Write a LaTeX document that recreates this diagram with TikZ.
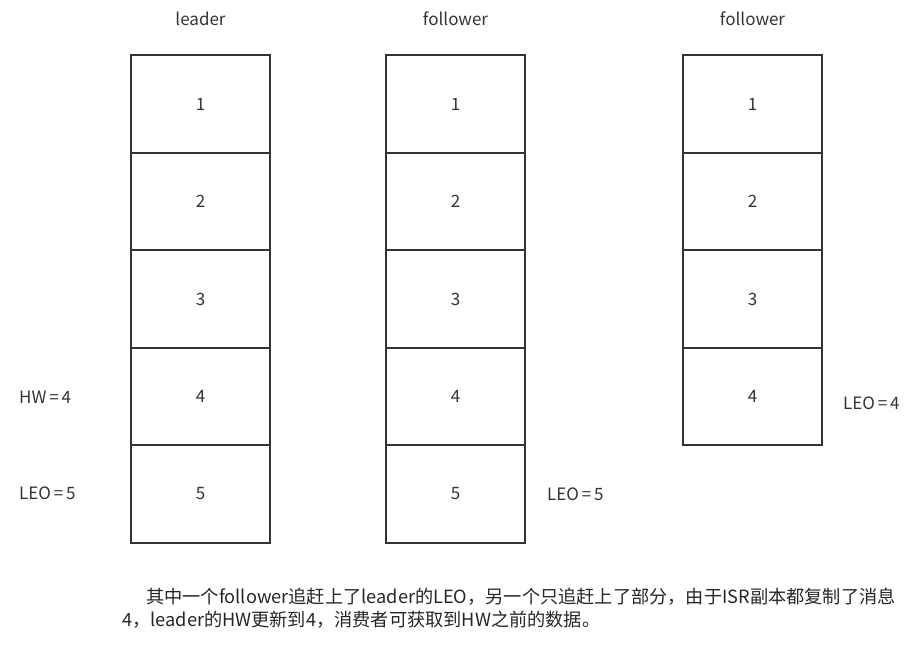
\documentclass[tikz,border=0pt]{standalone}
\usepackage{fontspec}
\setmainfont{Noto Sans CJK SC}
\usetikzlibrary{positioning}
\definecolor{inkgray}{HTML}{333333}

\begin{document}
\begin{tikzpicture}[x=1pt, y=-1pt,
  cell/.style={draw=inkgray, line width=2pt, minimum width=139pt,
    minimum height=97.5pt, outer sep=0pt, inner sep=0pt,
    font=\fontsize{17}{19}\selectfont, text=inkgray},
  lbl/.style={font=\fontsize{17}{19}\selectfont, text=inkgray, inner sep=0pt},
  note/.style={font=\fontsize{18.2}{21}\selectfont, text=black!85, inner sep=0pt, anchor=west}]
  \useasboundingbox (0,0) rectangle (910,652);

  % replica logs
  \node[cell] (l1) at (200.5,104) {1};
  \node[cell] (f1) at (455.5,104) {1};
  \node[cell] (g1) at (752.5,104) {1};
  \foreach \i [count=\j from 1] in {2,...,5} {
    \node[cell, below=0pt of l\j] (l\i) {\i};
    \node[cell, below=0pt of f\j] (f\i) {\i};
  }
  \foreach \i [count=\j from 1] in {2,...,4}
    \node[cell, below=0pt of g\j] (g\i) {\i};

  % titles
  \node[lbl] (leadername) at (200.5,19) {leader};
  \node[lbl] (fone) at (455.5,19) {follower};
  \node[lbl] (ftwo) at (752.5,19) {follower};

  % offsets
  \node[lbl, anchor=west] (hw) at (19,397) {HW\,=\,4};
  \node[lbl, anchor=west] (leol) at (19,493) {LEO\,=\,5};
  \node[lbl, right=22pt of f5] (leof) {LEO\,=\,5};
  \node[lbl, anchor=west] (leog) at (843,403) {LEO\,=\,4};

  % caption
  \node[note] (cap1) at (146,597) {其中一个follower追赶上了leader的LEO，另一个只追赶上了部分，由于ISR副本都复制了消息};
  \node[note] (cap2) at (122,620) {4，leader的HW更新到4，消费者可获取到HW之前的数据。};
\end{tikzpicture}
\end{document}
